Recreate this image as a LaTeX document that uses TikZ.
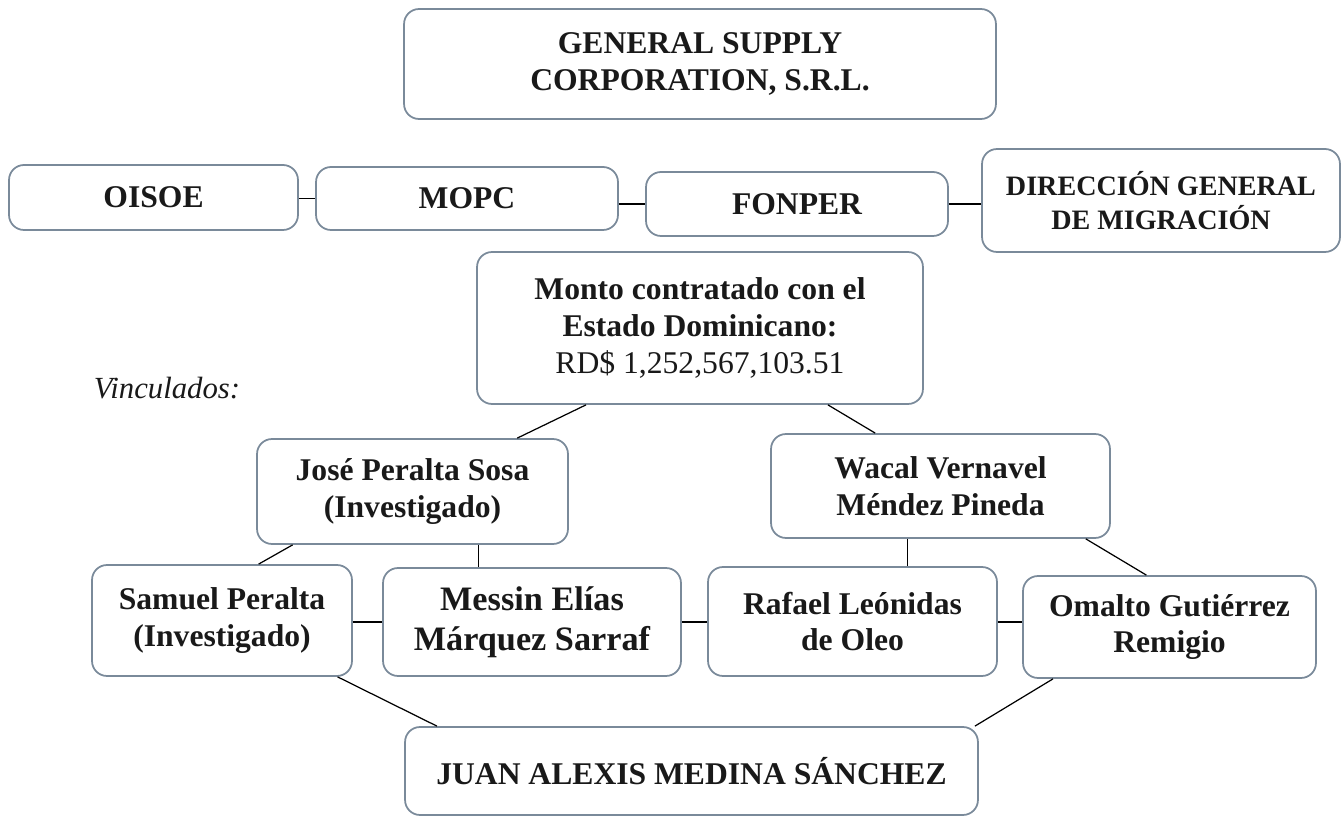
\documentclass[tikz,border=0pt]{standalone}
\usepackage{fontspec}
\setmainfont{Liberation Serif}
\definecolor{boxline}{RGB}{122,138,154}
\definecolor{ink}{RGB}{25,25,25}

\begin{document}
\begin{tikzpicture}[x=0.02cm, y=-0.02cm,
    box/.style={draw=boxline, line width=1pt, rounded corners=0.3cm, align=center,
        text=ink, inner sep=0pt, font=\bfseries\fontsize{18}{21}\selectfont},
    link/.style={draw=black, line width=0.7pt}]
    \useasboundingbox (0,0) rectangle (1343,820);
    \node[box, minimum width=11.84cm, minimum height=2.2cm] (gsc) at (700,64) {GENERAL SUPPLY\\CORPORATION, S.R.L.};
    \node[box, minimum width=5.78cm, minimum height=1.3cm] (oisoe) at (153.5,197.5) {OISOE};
    \node[box, minimum width=6.04cm, minimum height=1.26cm] (mopc) at (467,198.5) {MOPC};
    \node[box, minimum width=6.04cm, minimum height=1.28cm] (fonper) at (797,204) {FONPER};
    \node[box, minimum width=7.16cm, minimum height=2.06cm, font=\bfseries\fontsize{16}{19}\selectfont] (dgm) at (1161,200.5) {DIRECCIÓN GENERAL\\DE MIGRACIÓN};
    \node[box, minimum width=8.92cm, minimum height=3.04cm] (monto) at (700,328) {Monto contratado con el\\Estado Dominicano:\\{\mdseries RD\$ 1,252,567,103.51}};
    \node[text=ink, font=\itshape\fontsize{17.5}{20}\selectfont] (vinc) at (167,388) {Vinculados:};
    \node[box, minimum width=6.22cm, minimum height=2.1cm] (jose) at (412.5,491.5) {José Peralta Sosa\\(Investigado)};
    \node[box, minimum width=6.78cm, minimum height=2.08cm] (wacal) at (940.5,486) {Wacal Vernavel\\Méndez Pineda};
    \node[box, minimum width=5.2cm, minimum height=2.22cm] (samuel) at (222,620.5) {Samuel Peralta\\(Investigado)};
    \node[box, minimum width=5.96cm, minimum height=2.16cm, font=\bfseries\fontsize{19.5}{23}\selectfont] (messin) at (532,622) {Messin Elías\\Márquez Sarraf};
    \node[box, minimum width=5.78cm, minimum height=2.18cm] (rafael) at (852.5,621.5) {Rafael Leónidas\\de Oleo};
    \node[box, minimum width=5.86cm, minimum height=2.04cm] (omalto) at (1169.5,627) {Omalto Gutiérrez\\Remigio};
    \node[box, minimum width=11.46cm, minimum height=1.76cm] (juan) at (691.5,771) {JUAN ALEXIS MEDINA SÁNCHEZ};
    % top row
    \draw[link] (mopc.west -| oisoe.east) -- (mopc.west);
    \draw[link] (fonper.west -| mopc.east) -- (fonper.west);
    \draw[link] (fonper.east) -- (fonper.east -| dgm.west);
    % monto
    \draw[link] (monto.214) -- (jose.27);
    \draw[link] (monto.329) -- (wacal.141);
    % second level
    \draw[link] (jose.204) -- (samuel.57);
    \draw[link] (jose.-39) -- (jose.-39 |- messin.north);
    \draw[link] (wacal.238) -- (wacal.238 |- rafael.north);
    \draw[link] (wacal.340) -- (omalto.114);
    % row
    \draw[link] (messin.west -| samuel.east) -- (messin.west);
    \draw[link] (messin.east) -- (messin.east -| rafael.west);
    \draw[link] (messin.east -| rafael.east) -- (messin.east -| omalto.west);
    % bottom
    \draw[link] (samuel.334) -- (juan.170);
    \draw[link] (omalto.204) -- (juan.9);
\end{tikzpicture}
\end{document}
